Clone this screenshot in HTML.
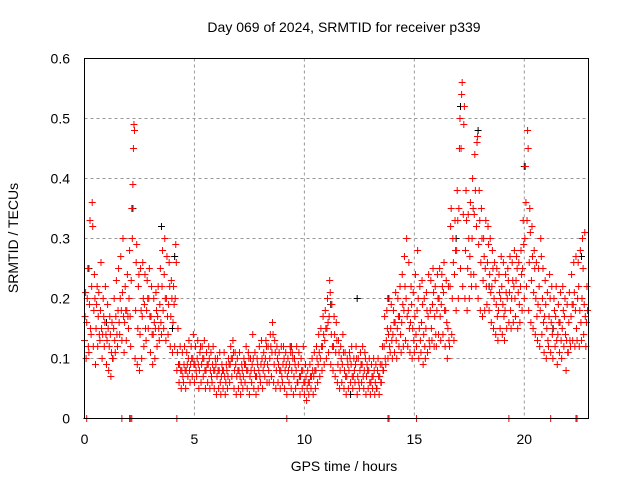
<!DOCTYPE html>
<html><head><meta charset="utf-8"><style>
body{margin:0;background:#fff;}
svg{display:block;font-family:"Liberation Sans",sans-serif;}
</style></head><body>
<svg id="c" width="640" height="480">
<text x="344" y="32" font-size="14" text-anchor="middle">Day 069 of 2024, SRMTID for receiver p339</text>
<text x="344" y="471" font-size="14" text-anchor="middle">GPS time / hours</text>
<text transform="translate(18,238) rotate(-90)" font-size="14" text-anchor="middle">SRMTID / TECUs</text>
<g id="grid"></g><g id="ticks"></g><g id="blk"></g><g id="red"></g>
<rect x="84.5" y="58.5" width="504" height="360" fill="none" stroke="#000"/>
</svg>
<script>
const xTicks=[0,5,10,15,20];
const yTicks=[0,0.1,0.2,0.3,0.4,0.5,0.6];
const yTickLabels=["0","0.1","0.2","0.3","0.4","0.5","0.6"];
const redStart=0, redStep=0.1;
const redRows=[
[13,17,21,10],[16,20,25,12],[11,19,33,15],[14,22,36,32],[12,18,24,20],[9,15,19,22],[12,17,21,14],[13,18,26,15],[10,14,20,17],[12,16,22,14],
[9,13,19,15],[8,12,17,14],[7,11,16,10],[10,15,20,13],[11,17,23,14],[12,18,25,16],[14,20,27,18],[13,21,30,17],[11,16,22,18],[13,18,24,17],
[15,20,28,17],[12,23,35,30],[39,45,49,48],[10,18,26,29],[9,15,22,24],[8,14,25,18],[10,17,26,20],[12,19,24,15],[13,18,23,20],[15,20,25,17],
[11,17,22,14],[9,14,20,16],[10,15,21,18],[12,17,22,15],[13,19,25,16],[14,22,28,18],[15,24,30,20],[13,20,27,17],[14,19,26,22],[12,17,23,20],
[11,16,22,19],[12,20,29,26],[8,11,15,9],[6,9,12,8],[5,8,11,7],[6,9,12,8],[5,8,11,9],[7,10,13,8],[6,9,12,10],[7,10,14,9],
[6,9,12,8],[7,10,13,9],[5,8,11,12],[6,9,12,10],[7,10,13,8],[5,8,11,9],[6,9,12,10],[5,8,11,7],[6,9,12,8],[5,8,10,9],
[4,7,10,8],[5,8,11,6],[4,7,9,8],[5,8,11,7],[4,6,9,8],[5,7,10,9],[6,9,12,10],[7,10,13,11],[5,8,11,9],[4,7,10,8],
[5,8,11,7],[4,6,9,8],[5,7,10,9],[6,9,12,8],[5,8,11,10],[4,7,10,8],[6,9,14,10],[5,8,11,7],[4,7,10,9],[5,8,12,7],
[6,9,13,10],[5,8,11,9],[7,10,13,12],[6,9,12,8],[6,10,14,12],[7,11,16,14],[6,9,13,11],[5,8,12,10],[6,9,11,8],[5,8,12,7],
[6,9,12,10],[5,8,11,9],[4,7,10,8],[6,9,12,11],[5,8,11,10],[4,7,10,9],[5,8,12,6],[6,9,11,7],[4,7,10,8],[5,8,12,6],
[4,6,9,7],[3,5,8,6],[4,6,9,7],[5,7,10,8],[4,7,11,8],[5,8,12,10],[6,9,14,11],[7,10,15,12],[8,12,17,14],[9,13,18,15],
[10,15,20,16],[11,17,23,21],[9,14,19,12],[8,12,17,14],[7,11,16,13],[6,9,13,11],[5,8,12,10],[6,9,14,11],[5,8,11,7],[4,7,10,9],
[5,8,11,10],[6,9,12,7],[5,7,10,8],[6,9,12,10],[4,7,10,6],[5,8,11,9],[6,9,12,7],[5,8,11,10],[4,7,9,8],[5,8,10,6],
[4,6,9,7],[5,7,10,8],[4,6,9,5],[5,8,10,7],[4,7,9,6],[6,9,12,8],[8,12,17,10],[9,13,18,15],[10,14,20,12],[11,15,19,13],
[10,14,18,16],[11,16,21,13],[10,15,20,17],[12,17,22,14],[11,16,24,19],[12,18,27,22],[13,20,30,17],[12,18,26,15],[11,16,22,19],[10,15,21,13],
[11,17,24,14],[12,18,28,20],[10,15,22,13],[11,16,23,19],[9,14,20,12],[10,15,21,18],[11,17,24,13],[12,18,23,15],[13,19,25,21],[12,17,22,14],
[12,18,24,20],[14,20,25,17],[13,19,24,22],[14,21,26,18],[12,18,23,16],[10,15,22,13],[12,22,32,35],[14,20,30,26],[13,24,33,28],[18,28,38,33],
[20,35,45,50],[25,45,54,56],[22,34,49,52],[20,28,38,33],[18,25,34,30],[20,27,36,24],[22,30,40,35],[24,34,44,38],[22,32,46,47],[20,29,38,33],
[18,26,35,30],[17,23,30,27],[18,25,33,22],[19,26,32,29],[18,24,30,21],[16,22,28,25],[15,20,26,23],[14,19,25,17],[13,18,24,21],[15,20,27,22],
[14,19,26,17],[13,18,24,21],[15,20,25,23],[16,21,27,18],[15,20,26,23],[16,22,28,20],[17,23,27,25],[15,21,26,19],[16,22,28,24],[18,25,33,29],
[20,30,42,36],[22,33,48,45],[18,26,35,31],[16,23,32,27],[15,21,28,25],[14,20,26,17],[13,19,25,22],[12,18,30,27],[14,20,25,16],[11,17,23,19],
[10,15,21,13],[12,17,24,20],[11,16,22,14],[10,15,20,18],[12,17,22,13],[9,14,19,16],[11,16,21,13],[10,15,22,18],[12,17,20,14],[8,13,19,11],
[11,16,21,13],[12,17,24,19],[13,19,26,21],[12,18,27,15],[13,20,26,22],[12,18,28,16],[13,20,30,25],[14,19,31,17],[12,16,22,18]
];
const blackTimes=[0.2,1.0,2.2,3.5,4.0,4.1,9.4,11.2,12.1,12.4,13.8,17.1,17.9,20.0,22.6,16.9,18.4,21.3];
const blackValues=[0.25,0.16,0.35,0.32,0.15,0.27,0.12,0.19,0.04,0.2,0.2,0.52,0.48,0.42,0.27,0.3,0.22,0.15];
const zeroTimes=[0.1,1.7,2.05,2.1,2.15,4.2,9.2,13.8,13.85,15.1,19.3,21.2,22.35,22.4];

const NS="http://www.w3.org/2000/svg";
const X0=84.5,XW=504,XMAX=22.92,Y0=418.5,YH=360,YMAX=0.6;
function sx(t){return X0+t/XMAX*XW;}
function sy(v){return Y0-v/YMAX*YH;}
function mk(tag,parent){const e=document.createElementNS(NS,tag);parent.appendChild(e);return e;}
const grid=document.getElementById('grid'),ticks=document.getElementById('ticks');
xTicks.forEach((t,i)=>{const x=sx(t);
 if(t>0){const g=mk('line',grid);g.setAttribute('x1',x);g.setAttribute('x2',x);g.setAttribute('y1',58.5);g.setAttribute('y2',418.5);g.setAttribute('stroke','#999');g.setAttribute('stroke-dasharray','3,3');
 
 }
 const l=mk('text',ticks);l.setAttribute('x',x);l.setAttribute('y',444);l.setAttribute('font-size','14');l.setAttribute('text-anchor','middle');l.textContent=String(t);
 
 
});
yTicks.forEach((v,i)=>{const y=sy(v);
 if(v>0&&v<YMAX){const g=mk('line',grid);g.setAttribute('x1',84.5);g.setAttribute('x2',588.5);g.setAttribute('y1',y);g.setAttribute('y2',y);g.setAttribute('stroke','#999');g.setAttribute('stroke-dasharray','3,3');
 
 }
 const l=mk('text',ticks);l.setAttribute('x',70);l.setAttribute('y',y+5);l.setAttribute('font-size','14');l.setAttribute('text-anchor','end');l.textContent=yTickLabels[i];
 
 
});
function plus(parent,t,v,col,name){const x=sx(t),y=sy(v);const p=mk('path',parent);
 p.setAttribute('d',`M${x-3.5},${y}H${x+3.5}M${x},${y-3.5}V${y+3.5}`);p.setAttribute('stroke',col);p.setAttribute('stroke-width','1');
 
 }
const blk=document.getElementById('blk'),red=document.getElementById('red');
blackTimes.forEach((t,i)=>plus(blk,t,blackValues[i],'#000','black-point'));
redRows.forEach((row,i)=>{const t=redStart+i*redStep;row.forEach((v,j)=>plus(red,t+j*0.025,v/100,'#f00','red-point'));});
zeroTimes.forEach(t=>plus(red,t,0,'#f00','zero-point'));
</script>
</body></html>
